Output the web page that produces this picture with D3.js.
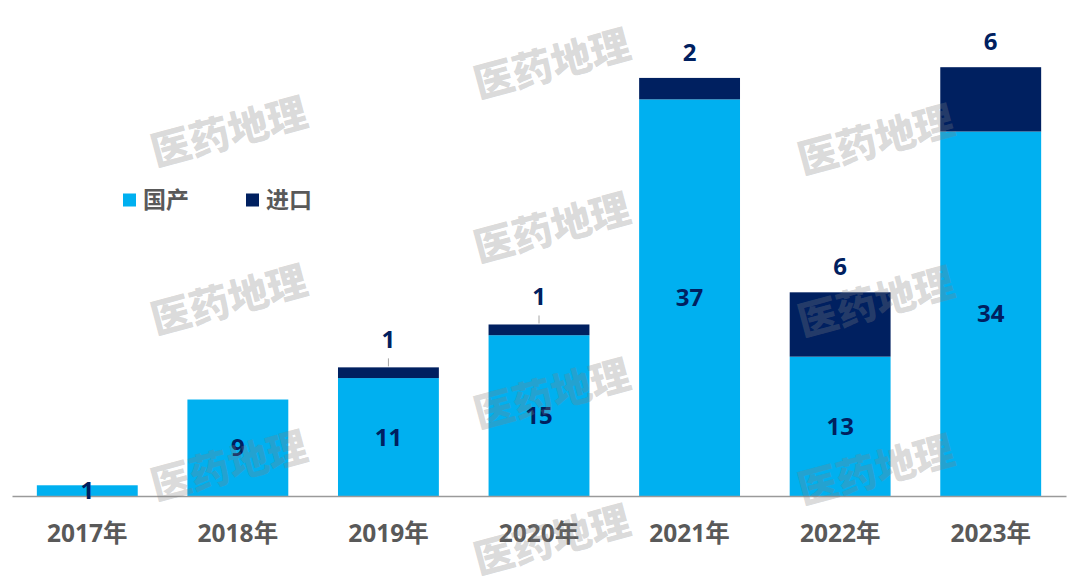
<!DOCTYPE html>
<html><head><meta charset="utf-8">
<script src="https://cdn.jsdelivr.net/npm/d3@7"></script>
<style>
html,body{margin:0;padding:0;background:#fff;}
text{font-family:"Open Sans","Noto Sans CJK SC",sans-serif;font-weight:700;}
</style></head>
<body><svg id="c" width="1080" height="588"></svg>
<script>
const categories = ["2017年","2018年","2019年","2020年","2021年","2022年","2023年"];
const domestic = [1, 9, 11, 15, 37, 13, 34];
const imported = [0, 0, 1, 1, 2, 6, 6];
const seriesNames = ["国产","进口"];
const colors = ["#00B0F0","#002060"];
const watermark = "医药地理";

const svg = d3.select("#c");
const x = d3.scaleBand().domain(categories).range([12, 1066]).paddingInner(0.33).paddingOuter(0.165);
const y = d3.scaleLinear().domain([0, 45]).range([496, 13.6]);

const rows = categories.map((c,i)=>({cat:c, 国产:domestic[i], 进口:imported[i]}));
const stacked = d3.stack().keys(seriesNames)(rows);

const g = svg.append("g");
stacked.forEach((s,si)=>{
  g.selectAll(null).data(s).join("rect")
    .attr("x", d=>x(d.data.cat))
    .attr("width", x.bandwidth())
    .attr("y", d=>y(d[1]))
    .attr("height", d=>y(d[0])-y(d[1]))
    .attr("fill", colors[si]);
});

// axis
const ax = svg.append("g").attr("transform","translate(0,496)").call(d3.axisBottom(x).tickSize(0).tickPadding(29));
ax.select(".domain").attr("stroke","#9a9a9a").attr("stroke-width",1.5);
ax.selectAll("text").attr("fill","#595959").style("font-size","24.5px").style("font-weight","700")
  .style("font-family",'"Open Sans","Noto Sans CJK SC",sans-serif');

// domestic labels
svg.selectAll(null).data(stacked[0]).join("text")
  .attr("x", d=>x(d.data.cat)+x.bandwidth()/2)
  .attr("y", d=>(y(d[0])+y(d[1]))/2)
  .attr("dy","0.36em").attr("text-anchor","middle")
  .attr("fill","#002060").style("font-size","24px")
  .text(d=>d.data["国产"]);

// imported labels
const imp = stacked[1].filter(d=>d.data["进口"]>0);
svg.selectAll(null).data(imp.filter(d=>d.data["进口"]<2)).join("line")
  .attr("x1", d=>x(d.data.cat)+x.bandwidth()/2)
  .attr("x2", d=>x(d.data.cat)+x.bandwidth()/2)
  .attr("y1", d=>y(d[1])-1)
  .attr("y2", d=>y(d[1])-9)
  .attr("stroke","#a6a6a6").attr("stroke-width",1);
svg.selectAll(null).data(imp).join("text")
  .attr("x", d=>x(d.data.cat)+x.bandwidth()/2)
  .attr("y", d=>y(d[1])-26 - (d.data["进口"]<2 ? 2 : 0))
  .attr("dy","0.36em").attr("text-anchor","middle")
  .attr("fill","#002060").style("font-size","24px")
  .text(d=>d.data["进口"]);

// legend
const leg = svg.append("g");
const legX = [123, 246];
seriesNames.forEach((n,i)=>{
  leg.append("rect").attr("x",legX[i]).attr("y",193.5).attr("width",13).attr("height",13).attr("fill",colors[i]);
  leg.append("text").attr("x",legX[i]+20).attr("y",200).attr("dy","0.36em")
    .attr("fill","#595959").style("font-size","23px").text(n);
});

// watermarks
const wm = [[229,132],[229,300],[229,466],[552,64],[552,228],[552,394],[552,540],[876,140],[876,302],[876,470]];
svg.append("g").selectAll(null).data(wm).join("text")
  .attr("transform", d=>`translate(${d[0]},${d[1]}) rotate(-15)`)
  .attr("text-anchor","middle").attr("dy","0.36em")
  .attr("fill","#808080").attr("fill-opacity",0.3)
  .style("font-size","40px").style("font-family",'"Noto Sans CJK SC",sans-serif').style("font-weight","900")
  .text(watermark);
</script></body></html>
